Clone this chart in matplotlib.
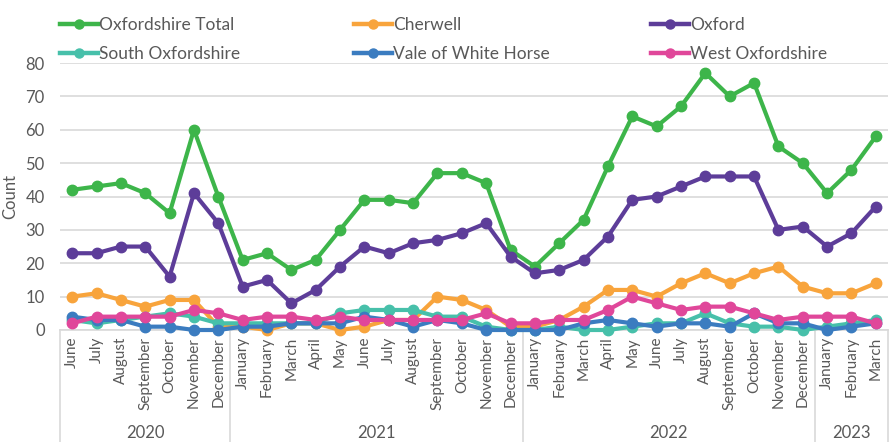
import matplotlib.pyplot as plt
from matplotlib.lines import Line2D
import matplotlib.transforms as mtransforms
import numpy as np

plt.rcParams['font.family'] = ['Lato', 'DejaVu Sans']

# data
months = ['June', 'July', 'August', 'September', 'October', 'November', 'December',
          'January', 'February', 'March', 'April', 'May', 'June', 'July', 'August',
          'September', 'October', 'November', 'December',
          'January', 'February', 'March', 'April', 'May', 'June', 'July', 'August',
          'September', 'October', 'November', 'December',
          'January', 'February', 'March']
years = ['2020', '2021', '2022', '2023']
year_counts = [7, 12, 12, 3]

total = [42, 43, 44, 41, 35, 60, 40, 21, 23, 18, 21, 30, 39, 39, 38, 47, 47, 44, 24,
         19, 26, 33, 49, 64, 61, 67, 77, 70, 74, 55, 50, 41, 48, 58]
cherwell = [10, 11, 9, 7, 9, 9, 1, 1, 0, 2, 2, 0, 1, 3, 3, 10, 9, 6, 1,
            1, 3, 7, 12, 12, 10, 14, 17, 14, 17, 19, 13, 11, 11, 14]
oxford = [23, 23, 25, 25, 16, 41, 32, 13, 15, 8, 12, 19, 25, 23, 26, 27, 29, 32, 22,
          17, 18, 21, 28, 39, 40, 43, 46, 46, 46, 30, 31, 25, 29, 37]
south = [3, 2, 3, 4, 5, 4, 2, 2, 2, 2, 2, 5, 6, 6, 6, 4, 4, 1, 0,
         0, 1, 0, 0, 1, 2, 2, 5, 2, 1, 1, 0, 1, 2, 3]
vale = [4, 3, 3, 1, 1, 0, 0, 1, 1, 2, 2, 2, 4, 3, 1, 3, 2, 0, 0,
        0, 0, 2, 3, 2, 1, 2, 2, 1, 5, 2, 2, 0, 1, 2]
west = [2, 4, 4, 4, 4, 6, 5, 3, 4, 4, 3, 4, 3, 3, 3, 3, 3, 5, 2,
        2, 3, 3, 6, 10, 8, 6, 7, 7, 5, 3, 4, 4, 4, 2]

series = [('Oxfordshire Total', total, '#3db54a'),
          ('Cherwell', cherwell, '#f8a43c'),
          ('Oxford', oxford, '#5d3d99'),
          ('South Oxfordshire', south, '#47c0aa'),
          ('Vale of White Horse', vale, '#3b7cc0'),
          ('West Oxfordshire', west, '#e0479a')]

txt = '#595959'
grid = '#d9d9d9'

fig = plt.figure(figsize=(8.91, 4.42), dpi=100)
ax = fig.add_axes([60/891, 1-330/442, 828/891, 267/442])

x = np.arange(len(months))
handles = []
for name, vals, col in series:
    ax.plot(x, vals, color=col, lw=3, marker='o', markersize=7.5,
            clip_on=False, zorder=3)
    handles.append(Line2D([0], [0], color=col, lw=3.2, marker='o', markersize=6.5))

ax.set_xlim(-0.5, len(months) - 0.5)
ax.set_ylim(0, 80)
ax.set_yticks(range(0, 81, 10))
ax.tick_params(axis='y', length=0, labelsize=12, labelcolor=txt, pad=11)
ax.yaxis.grid(True, color=grid, lw=1.2)
ax.set_axisbelow(True)
ax.set_ylabel('Count', fontsize=12, color=txt)
ax.yaxis.set_label_coords(-42/828, 0.5)

ax.set_xticks(x)
ax.set_xticklabels(months, rotation=90, fontsize=11, color=txt)
ax.tick_params(axis='x', length=0, pad=5)

for s in ['top', 'right', 'left']:
    ax.spines[s].set_visible(False)
ax.spines['bottom'].set_color(grid)
ax.spines['bottom'].set_linewidth(1.2)

# year groups below the month labels
trans = mtransforms.blended_transform_factory(ax.transData, ax.transAxes)
start = -0.5
bounds = [start]
for yr, n in zip(years, year_counts):
    ax.text(start + n / 2, -0.385, yr, transform=trans, ha='center', va='center',
            fontsize=12, color=txt)
    start += n
    bounds.append(start)
for b in bounds:
    ax.plot([b, b], [0, -0.43], transform=trans, color=grid, lw=1.2, clip_on=False)

# legend, three columns
cols_x = [60, 354, 651]
for i, cx in enumerate(cols_x):
    hs = [handles[i], handles[i + 3]]
    ls = [series[i][0], series[i + 3][0]]
    fig.legend(hs, ls, loc='upper left', bbox_to_anchor=(cx/891, 1 - 17/442),
               frameon=False, fontsize=12.5, labelcolor=txt, handlelength=2.2,
               handletextpad=0.05, labelspacing=0.75, borderpad=0, borderaxespad=0)

fig.savefig('out.png', dpi=100)
